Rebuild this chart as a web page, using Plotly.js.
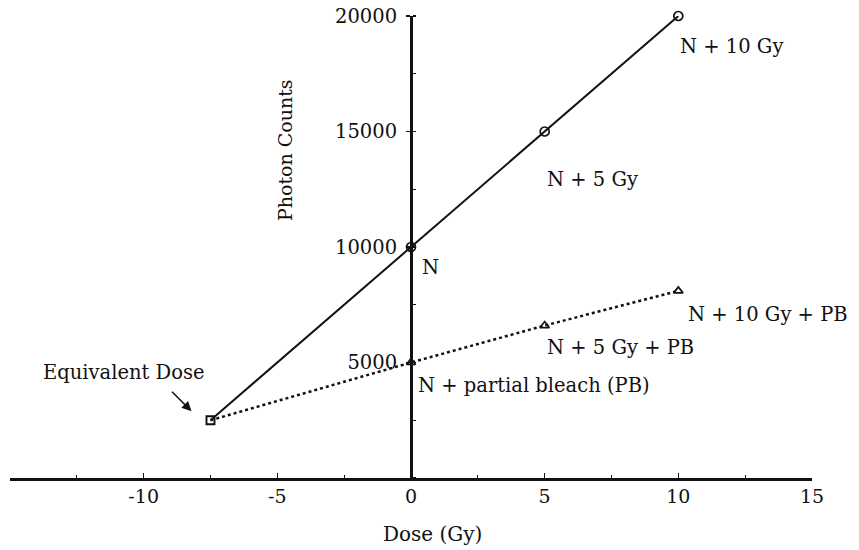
<!DOCTYPE html>
<html>
<head>
<meta charset="utf-8">
<script src="https://cdn.plot.ly/plotly-3.0.1.min.js"></script>
<style>
  html, body { margin: 0; padding: 0; background: #fff; }
  #chart { width: 859px; height: 550px; }
</style>
</head>
<body>
<div id="chart"></div>
<script>
// ---- data ----
const equivalentDose = [-7.5];
const equivalentCount = [2500];
const doseN = [0, 5, 10];
const countsN = [10000, 15000, 20000];
const dosePB = [0, 5, 10];
const countsPB = [5000, 6600, 8100];
const xTickVals = [-10, -5, 0, 5, 10, 15];
const xTickText = ['-10', '-5', '0', '5', '10', '15'];
const yTickVals = [5000, 10000, 15000, 20000];
const yTickText = ['5000', '10000', '15000', '20000'];
const labelsN = ['N', 'N + 5 Gy', 'N + 10 Gy'];
const labelsPB = ['N + partial bleach (PB)', 'N + 5 Gy + PB', 'N + 10 Gy + PB'];

const FONT = 'DejaVu Serif, Liberation Serif, serif';
const INK = '#111';

const traces = [
  { x: equivalentDose.concat(doseN), y: equivalentCount.concat(countsN),
    mode: 'lines', line: { color: INK, width: 2 }, hoverinfo: 'skip', showlegend: false, cliponaxis: false },
  { x: equivalentDose.concat(dosePB), y: equivalentCount.concat(countsPB),
    mode: 'lines', line: { color: INK, width: 2.5, dash: 'dot' }, hoverinfo: 'skip', showlegend: false, cliponaxis: false },
  { x: doseN, y: countsN, mode: 'markers', cliponaxis: false,
    marker: { symbol: 'circle-open', size: 9, color: INK, line: { width: 1.7, color: INK } }, showlegend: false },
  { x: dosePB, y: countsPB, mode: 'markers', cliponaxis: false,
    marker: { symbol: 'triangle-up-open', size: 8, color: INK, line: { width: 1.7, color: INK } }, showlegend: false },
  { x: equivalentDose, y: equivalentCount, mode: 'markers', cliponaxis: false,
    marker: { symbol: 'square-open', size: 8, color: INK, line: { width: 1.9, color: INK } }, showlegend: false }
];

const lblFont = { family: FONT, size: 19.5, color: INK };
// label offsets relative to each point (pixels)
const nOffsets = [[9, -20], [0, -48], [0, -30]];
const pbOffsets = [[5, -23], [0, -22], [8, -24]];
const annotations = [];
labelsN.forEach((t, i) => annotations.push({
  x: doseN[i], y: countsN[i], text: t, showarrow: false, xanchor: 'left', yanchor: 'middle',
  xshift: nOffsets[i][0], yshift: nOffsets[i][1], font: lblFont }));
labelsPB.forEach((t, i) => annotations.push({
  x: dosePB[i], y: countsPB[i], text: t, showarrow: false, xanchor: 'left', yanchor: 'middle',
  xshift: pbOffsets[i][0], yshift: pbOffsets[i][1], font: lblFont }));
annotations.push({ x: equivalentDose[0], y: equivalentCount[0], text: 'Equivalent Dose', showarrow: false,
  xanchor: 'right', yanchor: 'middle', xshift: -5, yshift: 48, font: lblFont });
annotations.push({ x: equivalentDose[0], y: equivalentCount[0], text: '', showarrow: true,
  xshift: -19, yshift: 9, ax: -21, ay: -21, arrowhead: 2, arrowsize: 1.2, arrowwidth: 1.6, arrowcolor: INK });
annotations.push({ x: -4.71, y: 14200, text: 'Photon Counts', textangle: -90, showarrow: false,
  font: { family: FONT, size: 19, color: INK } });
annotations.push({ x: 0.79, xref: 'x', y: -0.121, yref: 'paper', yanchor: 'middle', text: 'Dose (Gy)',
  showarrow: false, borderpad: 0, font: { family: FONT, size: 20, color: INK } });

const layout = {
  width: 859, height: 550,
  margin: { l: 10, r: 47, t: 16, b: 72 },
  paper_bgcolor: '#fff', plot_bgcolor: '#fff',
  font: { family: FONT, color: INK },
  showlegend: false,
  xaxis: {
    range: [-15, 15], showgrid: false, zeroline: false,
    showline: true, linecolor: INK, linewidth: 2.5,
    tickmode: 'array', tickvals: xTickVals, ticktext: xTickText,
    ticks: 'inside', ticklen: 5, tickwidth: 1.5, tickcolor: INK,
    minor: { dtick: 2.5, ticks: 'inside', ticklen: 3, tickwidth: 1.2, tickcolor: INK },
    tickfont: { family: FONT, size: 19, color: INK }
  },
  yaxis: {
    range: [0, 20000], showgrid: false, zeroline: false,
    anchor: 'free', position: 0.5,
    showline: true, linecolor: INK, linewidth: 2.5,
    tickmode: 'array', tickvals: yTickVals, ticktext: yTickText,
    ticks: 'outside', ticklen: 4, tickwidth: 1.5, tickcolor: INK,
    ticklabelstandoff: 5,
    minor: { dtick: 2500, ticks: 'inside', ticklen: 3, tickwidth: 1.2, tickcolor: INK },
    tickfont: { family: FONT, size: 19.5, color: INK }
  },
  annotations: annotations
};

Plotly.newPlot('chart', traces, layout, { displayModeBar: false, staticPlot: true });
</script>
</body>
</html>
